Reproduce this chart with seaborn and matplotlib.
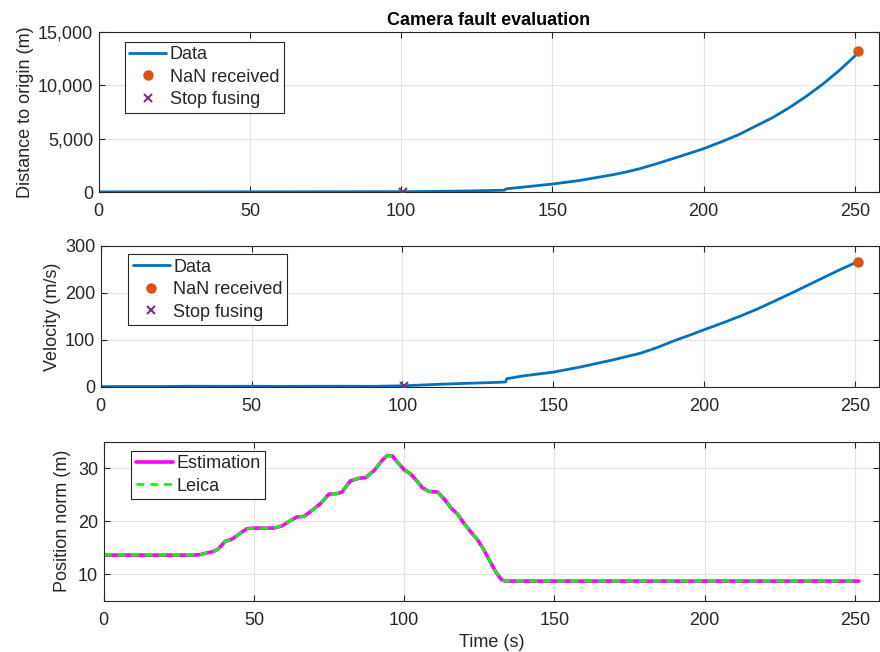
import numpy as np
import pandas as pd
import seaborn as sns
import matplotlib
matplotlib.use("Agg")
import matplotlib.pyplot as plt
from matplotlib.ticker import FuncFormatter

# ── data ────────────────────────────────────────────────────
t_dist = [0, 30, 50, 75, 95, 100.5, 110, 120, 128, 134.2, 134.6, 140, 150,
          159, 170, 174.5, 178.7, 184.2, 189.8, 195.3, 200, 206.3, 211.8, 217.3,
          222.8, 228.3, 233.8, 239.3, 244.8, 249.8, 251.2]
dist = [14, 14, 19, 25, 32, 30, 55, 90, 130, 170, 290, 450, 745,
        1080, 1620, 1880, 2170, 2625, 3125, 3625, 4060, 4750, 5400, 6190,
        6970, 7900, 8940, 10090, 11375, 12690, 13150]

t_vel = [0, 10, 20, 30, 40, 50, 60, 70, 80, 90, 100.5, 110, 120, 128, 134.2,
         134.6, 140, 150, 159, 170, 179, 184.5, 190.1, 195.6, 200, 206.6,
         212.1, 217.7, 223.2, 228.7, 234.2, 239.7, 245.2, 249.7, 251.1]
vel = [0.2, 0.3, 0.4, 1.0, 0.8, 0.9, 0.7, 0.9, 1.0, 0.8, 2, 4.5, 7, 8.5, 10,
       17, 23, 31, 42, 57.5, 71.5, 83.6, 97.9, 110.7, 121.4, 137,
       150.7, 165.7, 182, 198.6, 215.7, 232.9, 250, 262.9, 265.7]

t_pos = [0, 30, 32.1, 36.6, 38.2, 40.4, 42.7, 44.9, 47.7, 49.9, 56.6, 59.3,
         62.1, 64.3, 66.6, 68.8, 72.1, 74.9, 77.7, 79.3, 82.1, 84.9, 87.1,
         89.9, 92.7, 94.3, 96.1, 97.8, 100, 102.2, 104.5, 106.1, 108.3,
         111.1, 113.3, 115.6, 117.8, 120, 122.3, 124.5, 126.1, 128.4, 130.6,
         132.3, 133.6, 251.3]
pos_norm = [13.6, 13.6, 13.7, 14.3, 14.8, 16.2, 16.6, 17.5, 18.6, 18.7, 18.7,
            19.1, 20.1, 20.8, 20.9, 21.8, 23.3, 25.1, 25.2, 25.5, 27.6, 28.1,
            28.2, 29.5, 31.5, 32.4, 32.3, 31.1, 29.7, 28.9, 27.4, 26.3, 25.6,
            25.5, 24.2, 22.5, 21.3, 19.5, 17.9, 16.4, 15.0, 12.6, 10.3,
            9.0, 8.7, 8.7]

t_nan = [251.2]
dist_nan = [13200]
vel_nan = [265.7]
t_stop = [100.5]
dist_stop = [30]
vel_stop = [2]

# ── style ───────────────────────────────────────────────────
sns.set_style("ticks")
plt.rcParams['font.family'] = ['Liberation Sans', 'DejaVu Sans']
plt.rcParams['font.size'] = 13

BLUE = '#0072BD'
ORANGE = '#D95319'
PURPLE = '#7E2F8E'
DARK = '#262626'
FS = 13

fig = plt.figure(figsize=(8.8, 6.52), dpi=100)
W, H = 880, 652


def add_ax(left, top, right, bottom):
    return fig.add_axes([left / W, 1 - bottom / H, (right - left) / W, (bottom - top) / H])


def style_ax(ax):
    ax.set_xlim(0, 258)
    ax.set_xticks([0, 50, 100, 150, 200, 250])
    ax.grid(True, color='#e3e3e3', lw=0.8)
    ax.set_axisbelow(True)
    for sp in ax.spines.values():
        sp.set_visible(True)
        sp.set_color(DARK)
        sp.set_linewidth(0.8)
    ax.tick_params(direction='in', length=4, width=0.8, colors=DARK, pad=4,
                   top=True, right=True, labelsize=FS, labelcolor=DARK)
    ax.tick_params(axis='x', pad=8)


def add_legend(ax, anchor):
    leg = ax.legend(loc='upper left', bbox_to_anchor=anchor, borderaxespad=0,
                    fancybox=False, handlelength=2.05, handletextpad=0.2,
                    labelspacing=0.3, borderpad=0.25, fontsize=FS)
    leg.get_frame().set_edgecolor(DARK)
    leg.get_frame().set_linewidth(0.8)
    leg.get_frame().set_alpha(1)
    return leg


ax1 = add_ax(98.7, 32, 879, 192)
ax2 = add_ax(100.7, 246, 879, 386.7)
ax3 = add_ax(103.7, 441.7, 879, 600.7)

# ── distance ────────────────────────────────────────────────
sns.lineplot(x=t_dist, y=dist, ax=ax1, color=BLUE, lw=2, estimator=None, label='Data')
ax1.plot(t_nan, dist_nan, 'o', color=ORANGE, ms=6.5, label='NaN received', zorder=5)
ax1.plot(t_stop, dist_stop, 'x', color=PURPLE, ms=5.5, mew=1.5, label='Stop fusing', zorder=5)
style_ax(ax1)
ax1.set_ylim(0, 15000)
ax1.set_yticks([0, 5000, 10000, 15000])
ax1.yaxis.set_major_formatter(FuncFormatter(lambda v, p: f"{int(v):,}"))
ax1.set_ylabel("Distance to origin (m)", color=DARK, fontsize=FS, labelpad=3)
ax1.set_title("Camera fault evaluation", fontsize=FS, fontweight='bold', pad=5, color='black')
add_legend(ax1, (0.0333, 0.939))

# ── velocity ────────────────────────────────────────────────
sns.lineplot(x=t_vel, y=vel, ax=ax2, color=BLUE, lw=2, estimator=None, label='Data')
ax2.plot(t_nan, vel_nan, 'o', color=ORANGE, ms=6.5, label='NaN received', zorder=5)
ax2.plot(t_stop, vel_stop, 'x', color=PURPLE, ms=5.5, mew=1.5, label='Stop fusing', zorder=5)
style_ax(ax2)
ax2.set_ylim(0, 300)
ax2.set_yticks([0, 100, 200, 300])
ax2.set_ylabel("Velocity (m/s)", color=DARK, fontsize=FS, labelpad=3)
add_legend(ax2, (0.0355, 0.941))

# ── position norm ───────────────────────────────────────────
sns.lineplot(x=t_pos, y=pos_norm, ax=ax3, color='#FF00FF', lw=2.6, estimator=None,
             label='Estimation')
sns.lineplot(x=t_pos, y=pos_norm, ax=ax3, color='#00FF00', lw=1.9, estimator=None,
             label='Leica', linestyle=(0, (3, 2.2)))
style_ax(ax3)
ax3.set_ylim(5, 35)
ax3.set_yticks([10, 20, 30])
ax3.set_ylabel("Position norm (m)", color=DARK, fontsize=FS, labelpad=5)
ax3.set_xlabel("Time (s)", color=DARK, fontsize=FS, labelpad=4)
add_legend(ax3, (0.0352, 0.943))

fig.savefig("out.png", dpi=100)
